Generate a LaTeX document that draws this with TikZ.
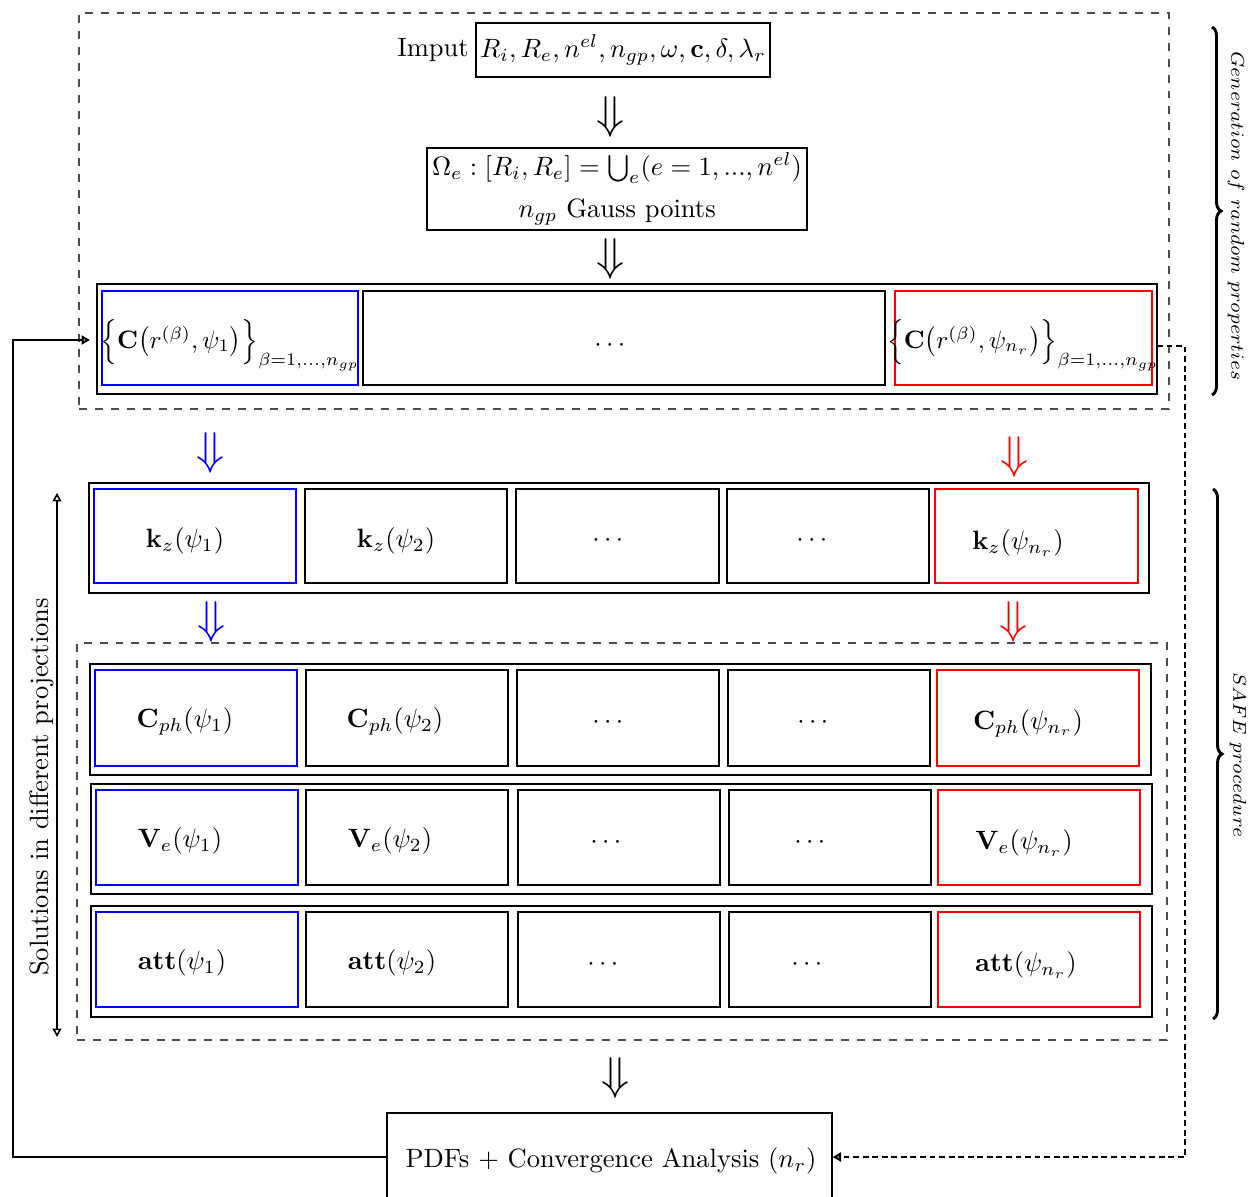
\documentclass[tikz,border=0pt]{standalone}
\usepackage{amsmath,amssymb}
\usetikzlibrary{arrows.meta,decorations.pathreplacing}
\newcommand\mybx[6]{\node[draw=#6, line width=0.45pt, minimum width={(#4-#2)*0.377pt}, minimum height={(#5-#3)*0.377pt}, inner sep=0pt, outer sep=0pt] (#1) at ({(#2+#4)/2},{(#3+#5)/2}) {};}
\tikzset{
  darr/.style={inner sep=0pt, font=\fontsize{18}{20}\selectfont},
  opentip/.style={-{Triangle[open,length=3.2pt,width=3.4pt]}},
  bothtip/.style={{Triangle[open,length=3.2pt,width=3.4pt]}-{Triangle[open,length=3.2pt,width=3.4pt]}},
  lbl/.style={inner sep=0pt},
  frame/.style={draw=black!70, dashed, line width=0.45pt, inner sep=0pt, outer sep=0pt},
}
\newcommand\mycrow[1]{\scalebox{0.95}{$\Big\{\mathbf{C}\big(r^{(\beta)},#1\big)\Big\}_{\beta=1,\ldots,n_{gp}}$}}
\begin{document}
\begin{tikzpicture}[x=0.377pt,y=-0.377pt]
\useasboundingbox (0,0) rectangle (1259,1197);
% dashed frames
\node[frame, minimum width={1090*0.377pt}, minimum height={396*0.377pt}] (frameA) at (624,211) {};
\node[frame, minimum width={1090*0.377pt}, minimum height={397*0.377pt}] (frameB) at (622,841.5) {};

% input
\node[lbl] (imput) at (433,50) {Imput};
\node[draw, line width=0.45pt, minimum width={294*0.377pt}, minimum height={54*0.377pt}, inner sep=0pt] (inp) at (623,50) {$R_i, R_e, n^{el}, n_{gp}, \omega, \mathbf{c}, \delta, \lambda_r$};
\node[darr] (a1) at (611,117) {$\Downarrow$};
\node[draw, line width=0.45pt, minimum width={380*0.377pt}, minimum height={82*0.377pt}, inner sep=0pt, align=center] (omega) at (617,189) {$\Omega_e : [R_i, R_e] = \bigcup_e (e=1,...,n^{el})$\\[4pt] $n_{gp}$ Gauss points};
\node[darr] (a2) at (611,259) {$\Downarrow$};

% C row
\mybx{Crow}{97}{284}{1157}{394}{black}
\mybx{C1}{102}{291}{358}{385}{blue}
\mybx{Cm}{363}{291}{885}{385}{black}
\mybx{Cn}{895}{291}{1152}{385}{red}
\node[lbl] (tC1) at (230,345) {\mycrow{\psi_1}};
\node[lbl] (tCm) at (612,346) {$\cdots$};
\node[lbl] (tCn) at (1023,345) {\mycrow{\psi_{n_r}}};

% colored arrows
\node[darr, text=blue] (b1) at (211,453) {$\Downarrow$};
\node[darr, text=red] (r1) at (1014,457) {$\Downarrow$};

% k row
\mybx{Krow}{89}{483}{1149}{593}{black}
\mybx{K1}{94}{489}{296}{583}{blue}
\mybx{K2}{305}{489}{507}{583}{black}
\mybx{K3}{516}{489}{719}{583}{black}
\mybx{K4}{727}{489}{929}{583}{black}
\mybx{K5}{935}{489}{1138}{583}{red}
\node[lbl] (tK1) at (185,541) {$\mathbf{k}_z(\psi_1)$};
\node[lbl] (tK2) at (396,541) {$\mathbf{k}_z(\psi_2)$};
\node[lbl] (tK3) at (610,541) {$\cdots$};
\node[lbl] (tK4) at (814,541) {$\cdots$};
\node[lbl] (tK5) at (1018,543) {$\mathbf{k}_z(\psi_{n_r})$};

\node[darr, text=blue] (b2) at (212,622) {$\Downarrow$};
\node[darr, text=red] (r2) at (1013,622) {$\Downarrow$};

% Cph row
\mybx{Prow}{90}{664}{1151}{775}{black}
\mybx{P1}{95}{670}{297}{766}{blue}
\mybx{P2}{306}{670}{508}{766}{black}
\mybx{P3}{517}{670}{719}{766}{black}
\mybx{P4}{728}{670}{930}{766}{black}
\mybx{P5}{937}{670}{1139}{766}{red}
\node[lbl] (tP1) at (185,721) {$\mathbf{C}_{ph}(\psi_1)$};
\node[lbl] (tP2) at (395,721) {$\mathbf{C}_{ph}(\psi_2)$};
\node[lbl] (tP3) at (610,723) {$\cdots$};
\node[lbl] (tP4) at (815,723) {$\cdots$};
\node[lbl] (tP5) at (1028,723) {$\mathbf{C}_{ph}(\psi_{n_r})$};

% Ve row
\mybx{Vrow}{91}{784}{1152}{894}{black}
\mybx{V1}{96}{790}{298}{885}{blue}
\mybx{V2}{306}{790}{508}{885}{black}
\mybx{V3}{518}{790}{720}{885}{black}
\mybx{V4}{729}{790}{931}{885}{black}
\mybx{V5}{938}{790}{1140}{885}{red}
\node[lbl] (tV1) at (180,841) {$\mathbf{V}_e(\psi_1)$};
\node[lbl] (tV2) at (390,841) {$\mathbf{V}_e(\psi_2)$};
\node[lbl] (tV3) at (608,843) {$\cdots$};
\node[lbl] (tV4) at (812,843) {$\cdots$};
\node[lbl] (tV5) at (1024,843) {$\mathbf{V}_e(\psi_{n_r})$};

% att row
\mybx{Arow}{91}{906}{1152}{1017}{black}
\mybx{A1}{96}{912}{298}{1007}{blue}
\mybx{A2}{306}{912}{508}{1007}{black}
\mybx{A3}{518}{912}{720}{1007}{black}
\mybx{A4}{729}{912}{931}{1007}{black}
\mybx{A5}{938}{912}{1140}{1007}{red}
\node[lbl] (tA1) at (182,963) {$\mathbf{att}(\psi_1)$};
\node[lbl] (tA2) at (392,963) {$\mathbf{att}(\psi_2)$};
\node[lbl] (tA3) at (605,965) {$\cdots$};
\node[lbl] (tA4) at (809,965) {$\cdots$};
\node[lbl] (tA5) at (1026,965) {$\mathbf{att}(\psi_{n_r})$};

% bottom
\node[darr] (a3) at (615,1078) {$\Downarrow$};
\node[draw, line width=0.45pt, minimum width={445*0.377pt}, minimum height={88*0.377pt}, inner sep=0pt] (pdf) at (609.5,1157) {};
\node[lbl] (tpdf) at (611,1161) {PDFs + Convergence Analysis ($n_r$)};

% feedback connectors
\coordinate (fbL) at (13,1157);
\coordinate (fbIn) at (90,340);
\draw[line width=0.8pt, opentip] (pdf.west) -- (fbL) |- (fbIn);
\coordinate (rsA) at (1157,346);
\coordinate (rsB) at (1185,346);
\coordinate (rsC) at (1185,1157);
\draw[line width=0.8pt, dash pattern=on 2.2pt off 1.4pt, opentip] (rsA) -- (rsB) -- (rsC) -- (pdf.east);

% vertical arrow
\coordinate (vTop) at (57,493);
\coordinate (vBot) at (57,1037);
\draw[line width=0.6pt, bothtip] (vBot) -- (vTop);
\node[rotate=90, lbl] (sol) at (42,787) {Solutions in different projections};

% braces
\coordinate (brA1) at (1212,27);
\coordinate (brA2) at (1212,395);
\draw[line width=1.1pt, decorate, decoration={brace, amplitude=3.4pt}] (brA1) -- (brA2);
\node[rotate=-90, lbl] (genl) at (1236,216) {\scriptsize $Generation\ of\ random\ properties$};
\coordinate (brB1) at (1213,489);
\coordinate (brB2) at (1213,1019);
\draw[line width=1.1pt, decorate, decoration={brace, amplitude=3.4pt}] (brB1) -- (brB2);
\node[rotate=-90, lbl] (safel) at (1238,755) {\scriptsize $SAFE\ procedure$};
\end{tikzpicture}
\end{document}
